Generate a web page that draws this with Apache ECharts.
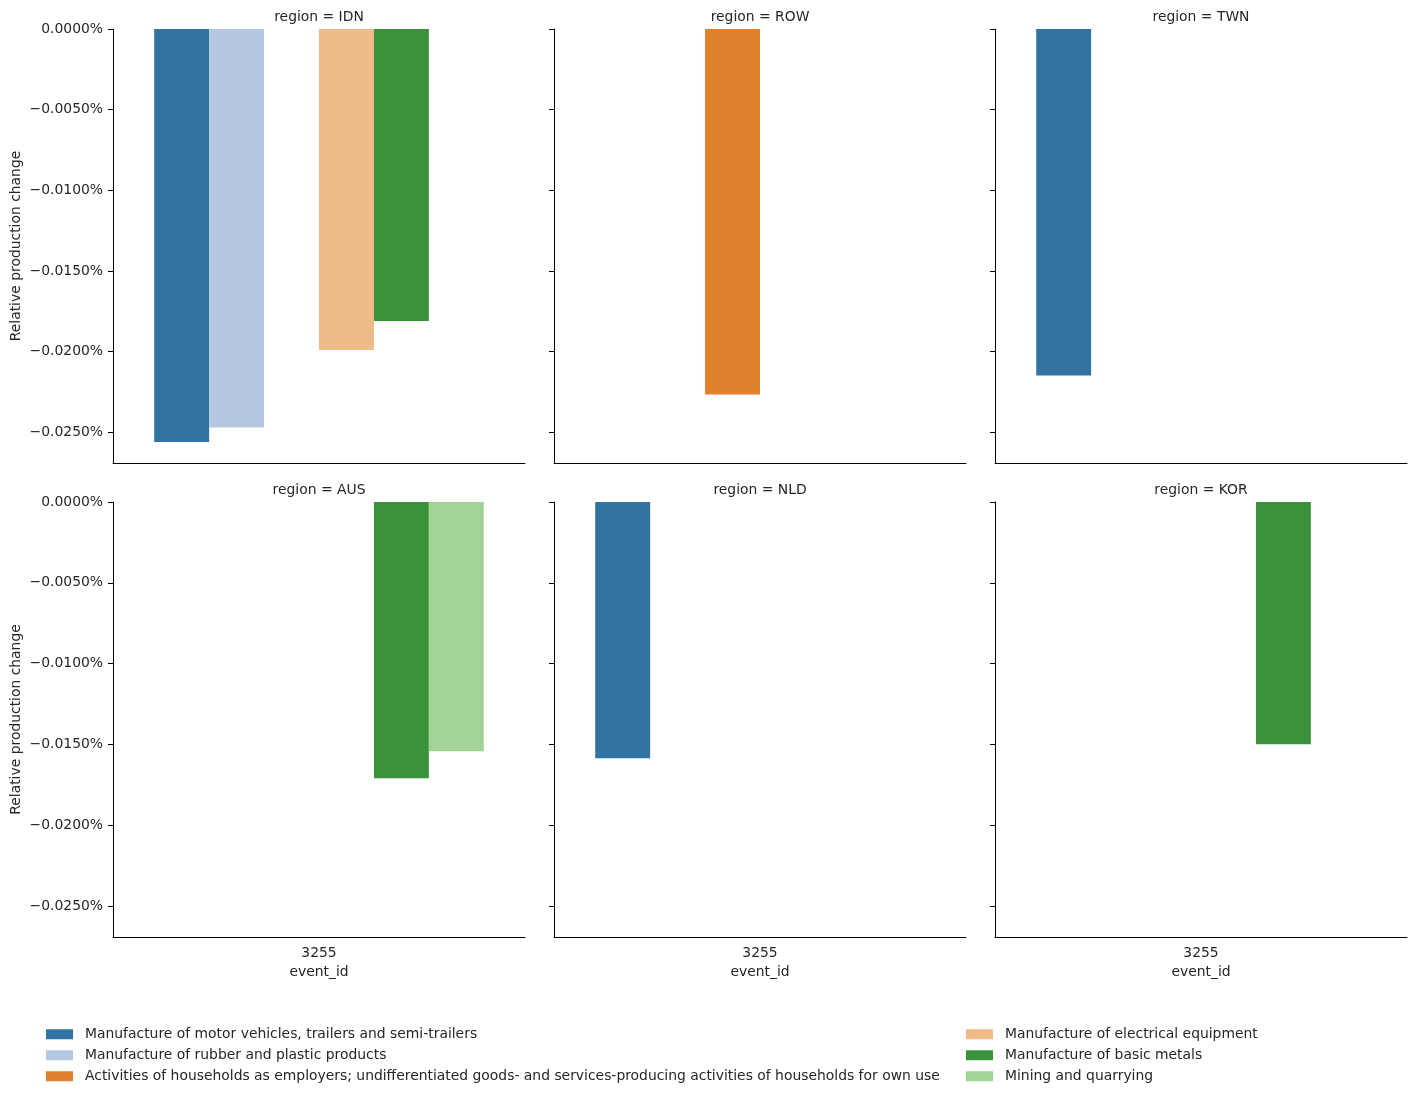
<!DOCTYPE html>
<html>
<head>
<meta charset="utf-8">
<script src="https://cdn.jsdelivr.net/npm/echarts@6/dist/echarts.min.js"></script>
<style>
  html, body { margin: 0; padding: 0; background: #fff; }
  #chart { width: 1416px; height: 1098px; }
</style>
</head>
<body>
<div id="chart"></div>
<script>
// facets, in reading order
const regions = ['IDN', 'ROW', 'TWN', 'AUS', 'NLD', 'KOR'];
const eventIds = ['3255'];
const sectors = [
  'Manufacture of motor vehicles, trailers and semi-trailers',
  'Manufacture of rubber and plastic products',
  'Activities of households as employers; undifferentiated goods- and services-producing activities of households for own use',
  'Manufacture of electrical equipment',
  'Manufacture of basic metals',
  'Mining and quarrying'
];
const sectorColors = ['#3274a1', '#b5c8e1', '#e1812c', '#eebb89', '#3a923a', '#9fd495'];

// relative production change in percent, one value per sector (null = no bar)
const valuesIDN = [-0.0256, -0.0247, null, -0.0199, -0.0181, null];
const valuesROW = [null, null, -0.02265, null, null, null];
const valuesTWN = [-0.02147, null, null, null, null, null];
const valuesAUS = [null, null, null, null, -0.01708, -0.01541];
const valuesNLD = [-0.01584, null, null, null, null, null];
const valuesKOR = [null, null, null, null, -0.01498, null];
const valuesByRegion = [valuesIDN, valuesROW, valuesTWN, valuesAUS, valuesNLD, valuesKOR];

const yTicks = [0, -0.005, -0.01, -0.015, -0.02, -0.025];

const FONT = 'DejaVu Sans';
const FS = 13.9;
const fmt = v => (v < 0 ? '\u2212' : '') + Math.abs(v).toFixed(4) + '%';

const lefts = [113, 554, 995];
const tops = [29, 502];
const W = 412, H = 435;

const chart = echarts.init(document.getElementById('chart'));

let grids = [], xAxes = [], yAxes = [], titles = [], series = [];
regions.forEach((reg, i) => {
  const col = i % 3, row = Math.floor(i / 3);
  grids.push({ left: lefts[col], top: tops[row], width: W, height: H - (row === 0 ? 1 : 0) });
  titles.push({
    text: 'region = ' + reg, padding: 0,
    left: lefts[col] + W / 2, top: tops[row] - 19, textAlign: 'center',
    textStyle: { fontFamily: FONT, fontSize: FS, fontWeight: 'normal', color: '#262626' }
  });
  xAxes.push({
    type: 'category', gridIndex: i, data: eventIds,
    axisLine: { onZero: false, lineStyle: { color: '#000', width: 1 } },
    axisTick: { alignWithLabel: true, length: 5, lineStyle: { color: '#000' } },
    axisLabel: { show: row === 1, margin: 9, fontFamily: FONT, fontSize: FS, color: '#262626' },
    name: row === 1 ? 'event_id' : '', nameLocation: 'middle', nameGap: 28,
    nameTextStyle: { fontFamily: FONT, fontSize: FS, color: '#262626' }
  });
  yAxes.push({
    type: 'value', gridIndex: i, min: -0.0269, max: 0,
    axisLine: { show: true, lineStyle: { color: '#000', width: 1 } },
    axisTick: { show: true, length: 5, customValues: yTicks, lineStyle: { color: '#000' } },
    axisLabel: { show: col === 0, customValues: yTicks, formatter: fmt, margin: 10,
      fontFamily: FONT, fontSize: FS, color: '#262626', padding: [2, 0, 0, 0] },
    splitLine: { show: false },
    name: col === 0 ? 'Relative production change' : '', nameLocation: 'middle', nameGap: 90,
    nameTextStyle: { fontFamily: FONT, fontSize: FS, color: '#262626' }
  });
  sectors.forEach((s, h) => {
    series.push({
      type: 'bar', name: s, xAxisIndex: i, yAxisIndex: i,
      data: [valuesByRegion[i][h]],
      itemStyle: { color: sectorColors[h] },
      barGap: '0%', barCategoryGap: '20%'
    });
  });
});

const legendBase = {
  orient: 'vertical', top: 1027, padding: 0, itemGap: 6.5,
  itemWidth: 27, itemHeight: 10, icon: 'rect', selectedMode: false,
  textStyle: { fontFamily: FONT, fontSize: FS, color: '#262626', lineHeight: 14.5, padding: [0, 0, 0, 7] }
};

chart.setOption({
  animation: false,
  color: sectorColors,
  title: titles,
  grid: grids,
  xAxis: xAxes,
  yAxis: yAxes,
  legend: [
    Object.assign({}, legendBase, { left: 46, data: sectors.slice(0, 3) }),
    Object.assign({}, legendBase, { left: 966, data: sectors.slice(3) })
  ],
  series: series
});
</script>
</body>
</html>
